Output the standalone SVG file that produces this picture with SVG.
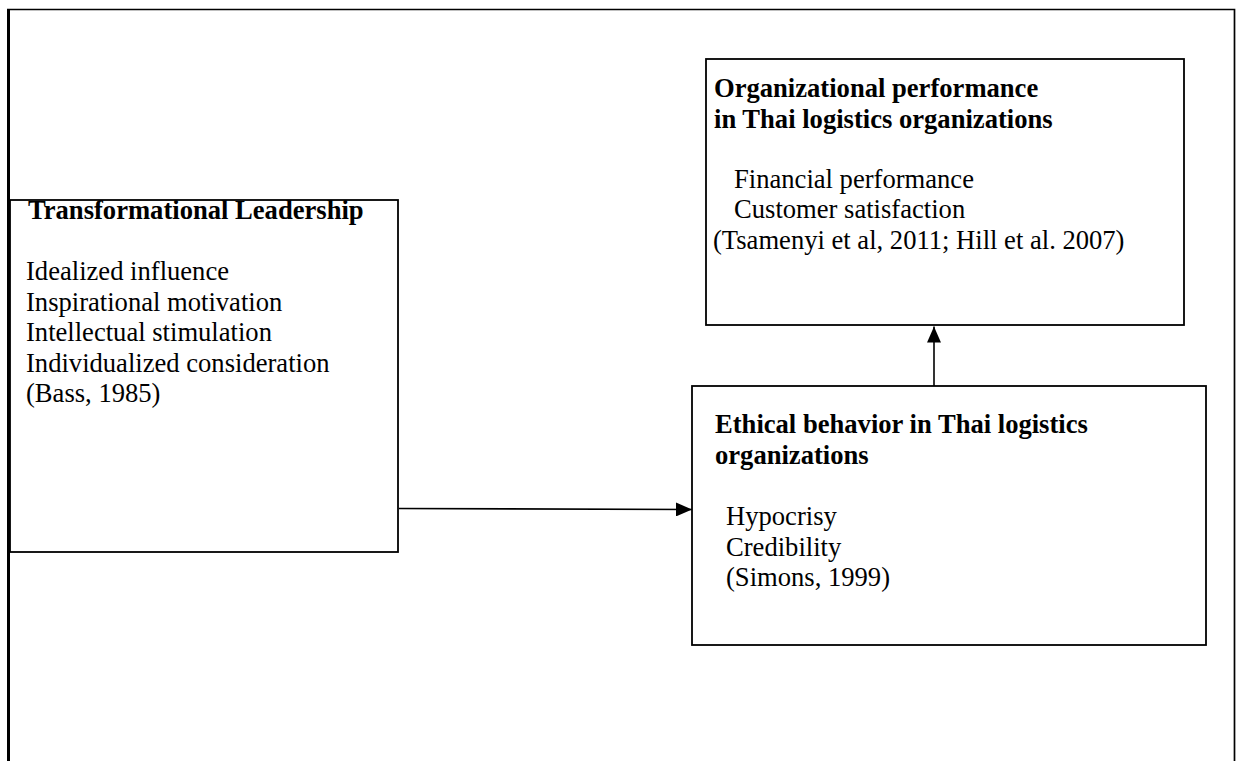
<svg xmlns="http://www.w3.org/2000/svg" width="1243" height="761" viewBox="0 0 1243 761">
  <style>
    .box { fill: #ffffff; stroke: #000000; stroke-width: 1.8; }
    .frame { fill: none; stroke: #000000; }
    .conn { stroke: #000000; stroke-width: 1.6; fill: none; }
    text { font-family: "Liberation Serif", "Times New Roman", serif; font-size: 26.6px; fill: #000000; }
    .title { font-weight: bold; }
  </style>
  <defs>
    <marker id="arrowhead" viewBox="0 0 16 14" refX="16" refY="7" markerWidth="16" markerHeight="14" markerUnits="userSpaceOnUse" orient="auto">
      <path d="M0,0 L16,7 L0,14 Z" fill="#000000"/>
    </marker>
  </defs>

  <rect width="1243" height="761" fill="#ffffff"/>

  <!-- open outer frame: left, top and right sides only -->
  <g id="frame">
    <path class="frame" d="M8.5,761 V9.5" stroke-width="3"/>
    <path class="frame" d="M7,9.5 H1234.5 V761" stroke-width="1.7"/>
  </g>

  <g id="node-leadership">
    <rect class="box" x="10" y="200" width="388" height="352"/>
    <text class="title" x="28" y="218.5">Transformational Leadership</text>
    <text x="26" y="280">Idealized influence</text>
    <text x="26" y="310.6">Inspirational motivation</text>
    <text x="26" y="341.2">Intellectual stimulation</text>
    <text x="26" y="371.8">Individualized consideration</text>
    <text x="26" y="402.4">(Bass, 1985)</text>
  </g>

  <g id="node-performance">
    <rect class="box" x="706" y="59" width="478" height="266"/>
    <text class="title" x="714" y="97">Organizational performance</text>
    <text class="title" x="714" y="127.7">in Thai logistics organizations</text>
    <text x="734" y="187.5">Financial performance</text>
    <text x="734" y="218.3">Customer satisfaction</text>
    <text x="713" y="249">(Tsamenyi et al, 2011; Hill et al. 2007)</text>
  </g>

  <g id="node-ethical">
    <rect class="box" x="692" y="386" width="514" height="259"/>
    <text class="title" x="715" y="433.3">Ethical behavior in Thai logistics</text>
    <text class="title" x="715" y="463.6">organizations</text>
    <text x="726" y="525">Hypocrisy</text>
    <text x="726" y="555.5">Credibility</text>
    <text x="726" y="586">(Simons, 1999)</text>
  </g>

  <g id="connectors">
    <line class="conn" x1="399" y1="508.5" x2="692" y2="509.5" marker-end="url(#arrowhead)"/>
    <line class="conn" x1="934" y1="386" x2="934" y2="326.5" marker-end="url(#arrowhead)"/>
  </g>
</svg>
